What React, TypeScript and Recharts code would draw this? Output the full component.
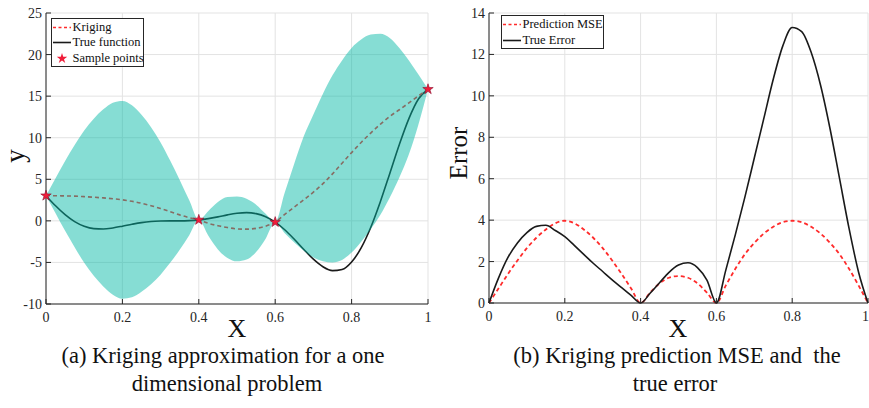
import {
  ComposedChart,
  Line,
  Area,
  Scatter,
  XAxis,
  YAxis,
  CartesianGrid,
  Symbols,
} from "recharts";

const xs = [
  0, 0.025, 0.05, 0.075, 0.1, 0.125, 0.15, 0.175, 0.2, 0.225, 0.25, 0.275, 0.3, 0.325,
  0.35, 0.375, 0.4, 0.425, 0.45, 0.475, 0.5, 0.525, 0.55, 0.575, 0.6, 0.625, 0.65, 0.675,
  0.7, 0.725, 0.75, 0.775, 0.8, 0.825, 0.85, 0.875, 0.9, 0.925, 0.95, 0.975, 1,
];

const trueFn = [
  3.03, 1.81, 0.74, -0.1, -0.66, -0.94, -0.98, -0.85, -0.64, -0.41, -0.21, -0.08, -0.02, 0,
  0, 0.03, 0.12, 0.27, 0.48, 0.72, 0.91, 0.99, 0.87, 0.5, -0.15, -1.07, -2.21, -3.44,
  -4.61, -5.52, -5.99, -5.85, -4.95, -3.25, -0.8, 2.27, 5.71, 9.19, 12.3, 14.65, 15.83,
];

const kriging = [
  3.03, 3.02, 3.0, 2.97, 2.91, 2.84, 2.76, 2.66, 2.53, 2.35, 2.12, 1.82, 1.48, 1.1,
  0.72, 0.38, 0.12, -0.3, -0.58, -0.8, -0.97, -1.0, -0.9, -0.64, -0.15, 0.78, 1.66, 2.53,
  3.45, 4.47, 5.65, 6.93, 8.21, 9.43, 10.56, 11.61, 12.57, 13.36, 14.19, 15.03, 15.83,
];

const bandLower = [
  3.03, 0.92, -1.2, -3.18, -5.04, -6.61, -7.89, -8.89, -9.37, -9.2, -8.53, -7.63, -6.47, -5.05,
  -3.48, -1.72, 0.12, -1.8, -3.43, -4.46, -4.87, -4.66, -3.75, -2.14, -0.15, -1.5, -2.6, -3.6,
  -4.4, -4.85, -5.0, -4.7, -3.8, -2.5, -1.0, 0.7, 2.8, 5.2, 8.0, 11.6, 15.83,
];

const bandUpper = [
  3.03, 5.12, 7.2, 9.12, 10.86, 12.29, 13.41, 14.21, 14.43, 13.9, 12.77, 11.27, 9.43, 7.25,
  4.92, 2.48, 0.12, 1.2, 2.27, 2.86, 2.93, 2.66, 1.95, 0.86, -0.15, 3.4, 6.9, 10.2,
  12.8, 15.3, 17.5, 19.3, 20.8, 21.8, 22.4, 22.5, 22.0, 20.8, 19.3, 17.6, 15.83,
];

const sampleX = [0, 0.4, 0.6, 1];
const sampleY = [3.03, 0.12, -0.15, 15.83];

const predMse = [
  0, 0.7, 1.4, 2.05, 2.65, 3.15, 3.55, 3.85, 3.97, 3.85, 3.55, 3.15, 2.65, 2.05,
  1.4, 0.7, 0, 0.5, 0.95, 1.22, 1.3, 1.22, 0.95, 0.5, 0, 0.85, 1.65, 2.35,
  2.9, 3.35, 3.68, 3.9, 3.97, 3.9, 3.68, 3.35, 2.9, 2.35, 1.65, 0.85, 0,
];

const trueError = [
  0, 1.2, 2.2, 2.9, 3.4, 3.7, 3.75, 3.5, 3.2, 2.78, 2.35, 1.92, 1.52, 1.12,
  0.74, 0.37, 0, 0.47, 0.98, 1.48, 1.83, 1.94, 1.71, 1.1, 0, 1.6, 3.3, 5.1,
  7.0, 8.9, 10.8, 12.4, 13.3, 13.1, 12.1, 10.5, 8.4, 6.0, 3.6, 1.5, 0,
];

const xTicks = [0, 0.2, 0.4, 0.6, 0.8, 1];
const yTicksA = [-10, -5, 0, 5, 10, 15, 20, 25];
const yTicksB = [0, 2, 4, 6, 8, 10, 12, 14];

const FONT = '"Liberation Serif", "Times New Roman", serif';
const INK = "#262626";
const GRID = "#e3e3e3";
const BAND = "#00b7a4";
const RED = "#ff2b2b";
const STAR = "#f01d3a";

const kData = xs.map((x, i) => ({
  x,
  trueFn: trueFn[i],
  kriging: kriging[i],
  band: [bandLower[i], bandUpper[i]],
}));
const samples = sampleX.map((x, i) => ({ x, y: sampleY[i] }));
const eData = xs.map((x, i) => ({ x, mse: predMse[i], err: trueError[i] }));

const tickStyle = { fill: INK, fontSize: 14, fontFamily: FONT };

function Star(p: any) {
  return (
    <Symbols cx={p.cx} cy={p.cy} type="star" size={34} fill={STAR} stroke="#8a1030" strokeWidth={0.6} />
  );
}

function Txt({ x, y, size, rotate, lh = 1, children }: any) {
  return (
    <div
      style={{
        position: "absolute",
        left: x,
        top: y,
        transform: `translate(-50%, -50%)${rotate ? " rotate(-90deg)" : ""}`,
        fontFamily: FONT,
        fontSize: size,
        color: "#111",
        whiteSpace: "pre",
        lineHeight: lh,
      }}
    >
      {children}
    </div>
  );
}

function LegendRow({ kind, label }: { kind: string; label: string }) {
  return (
    <div style={{ display: "flex", alignItems: "center", height: 15.5 }}>
      <svg width={21} height={15} style={{ flex: "none" }}>
        {kind === "dash" && (
          <line x1={1} y1={7.5} x2={19} y2={7.5} stroke={RED} strokeWidth={1.6} strokeDasharray="3 2.5" />
        )}
        {kind === "solid" && <line x1={1} y1={7.5} x2={19} y2={7.5} stroke="#1a1a1a" strokeWidth={1.6} />}
        {kind === "star" && <Symbols cx={10} cy={7.5} type="star" size={34} fill={STAR} />}
      </svg>
      <span style={{ fontFamily: FONT, fontSize: 12.5, color: "#111", whiteSpace: "nowrap" }}>{label}</span>
    </div>
  );
}

function KrigingChart() {
  return (
    <ComposedChart
      width={440}
      height={330}
      data={kData}
      margin={{ top: 13, right: 12, bottom: 6, left: 10 }}
    >
      <CartesianGrid stroke={GRID} />
      <XAxis
        dataKey="x"
        type="number"
        domain={[0, 1]}
        ticks={xTicks}
        height={20}
        tickSize={-5}
        tickMargin={13}
        tick={tickStyle}
        stroke={INK}
      />
      <XAxis xAxisId="top" orientation="top" dataKey="x" type="number" domain={[0, 1]} ticks={xTicks} height={0} tick={false} tickSize={-5} stroke={INK} />
      <YAxis
        type="number"
        domain={[-10, 25]}
        ticks={yTicksA}
        width={36}
        tickSize={-5}
        tickMargin={9}
        tick={tickStyle}
        stroke={INK}
      />
      <YAxis yAxisId="right" orientation="right" type="number" domain={[-10, 25]} ticks={yTicksA} width={0} tick={false} tickSize={-5} stroke={INK} />
      <Line type="monotone" dataKey="trueFn" stroke="#1a1a1a" strokeWidth={1.6} dot={false} activeDot={false} isAnimationActive={false} />
      <Line type="monotone" dataKey="kriging" stroke={RED} strokeWidth={1.6} strokeDasharray="4 3" dot={false} activeDot={false} isAnimationActive={false} />
      <Area type="monotone" dataKey="band" fill={BAND} fillOpacity={0.475} stroke="none" zIndex={450} activeDot={false} isAnimationActive={false} />
      <Scatter data={samples} dataKey="y" shape={Star} isAnimationActive={false} />
    </ComposedChart>
  );
}

function ErrorChart() {
  return (
    <ComposedChart
      width={429}
      height={330}
      data={eData}
      margin={{ top: 13, right: 1, bottom: 7, left: 9 }}
    >
      <CartesianGrid stroke={GRID} />
      <XAxis
        dataKey="x"
        type="number"
        domain={[0, 1]}
        ticks={xTicks}
        height={20}
        tickSize={-5}
        tickMargin={13}
        tick={tickStyle}
        stroke={INK}
      />
      <XAxis xAxisId="top" orientation="top" dataKey="x" type="number" domain={[0, 1]} ticks={xTicks} height={0} tick={false} tickSize={-5} stroke={INK} />
      <YAxis
        type="number"
        domain={[0, 14]}
        ticks={yTicksB}
        width={40}
        tickSize={-5}
        tickMargin={9}
        tick={tickStyle}
        stroke={INK}
      />
      <YAxis yAxisId="right" orientation="right" type="number" domain={[0, 14]} ticks={yTicksB} width={0} tick={false} tickSize={-5} stroke={INK} />
      <Line type="monotone" dataKey="mse" stroke={RED} strokeWidth={1.8} strokeDasharray="4 3" dot={false} activeDot={false} isAnimationActive={false} />
      <Line type="monotone" dataKey="err" stroke="#1a1a1a" strokeWidth={1.6} dot={false} activeDot={false} isAnimationActive={false} />
    </ComposedChart>
  );
}

export default function App() {
  return (
    <div style={{ position: "absolute", left: 0, top: 0, width: 869, height: 408, background: "#fff", overflow: "hidden" }}>
      <div style={{ position: "absolute", left: 0, top: 0 }}>
        <KrigingChart />
      </div>
      <div style={{ position: "absolute", left: 440, top: 0 }}>
        <ErrorChart />
      </div>

      <div style={{ position: "absolute", left: 50.5, top: 17.5, width: 93, height: 49, border: `1px solid ${INK}`, background: "#fff", boxSizing: "border-box", paddingTop: 1 }}>
        <LegendRow kind="dash" label="Kriging" />
        <LegendRow kind="solid" label="True function" />
        <LegendRow kind="star" label="Sample points" />
      </div>
      <div style={{ position: "absolute", left: 500.5, top: 15, width: 103, height: 34, border: `1px solid ${INK}`, background: "#fff", boxSizing: "border-box", paddingTop: 1 }}>
        <LegendRow kind="dash" label="Prediction MSE" />
        <LegendRow kind="solid" label="True Error" />
      </div>

      <Txt x={15} y={156} size={27} rotate>y</Txt>
      <Txt x={458} y={153} size={25} rotate>Error</Txt>
      <Txt x={237} y={329} size={26} lh={0.7}>X</Txt>
      <Txt x={678} y={329} size={26} lh={0.7}>X</Txt>

      <Txt x={223} y={356} size={22.5} lh={0.9}>(a) Kriging approximation for a one</Txt>
      <Txt x={227} y={384} size={22.5} lh={0.9}>dimensional problem</Txt>
      <Txt x={677} y={356} size={22.5} lh={0.9}>(b) Kriging prediction MSE and  the</Txt>
      <Txt x={675} y={384} size={22.5} lh={0.9}>true error</Txt>
    </div>
  );
}
